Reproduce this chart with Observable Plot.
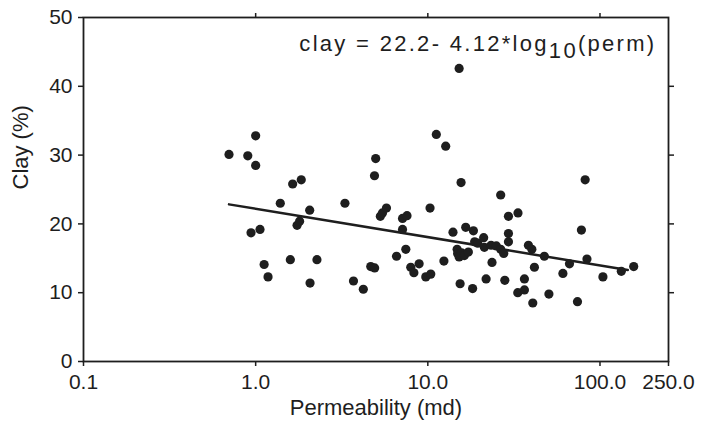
<!DOCTYPE html>
<html><head><meta charset="utf-8">
<script src="https://cdn.jsdelivr.net/npm/d3@7"></script>
<script src="https://cdn.jsdelivr.net/npm/@observablehq/plot@0.6"></script>
<style>
html,body{margin:0;padding:0;background:#fff;}
</style></head><body><div id="chart"></div>
<script>
// Permeability (md) of each sample
const perm = [0.70, 0.90, 1.00, 1.00, 0.94, 1.06, 1.12, 1.18, 1.39, 1.64,
  1.84, 1.74, 1.80, 1.59, 2.06, 2.07, 2.27, 3.30, 3.70, 4.22,
  4.66, 4.91, 4.98, 4.90, 5.30, 5.45, 5.75, 6.58, 7.13, 7.57,
  7.13, 7.45, 7.96, 8.30, 8.90, 9.73, 10.4, 10.3, 11.2, 12.7,
  12.4, 14.0, 15.2, 15.6, 15.4, 14.8, 14.9, 15.7, 15.2, 16.3,
  17.2, 16.6, 18.4, 18.7, 18.2, 19.5, 21.1, 21.3, 23.3, 21.8,
  23.6, 26.5, 25.0, 26.5, 27.6, 28.0, 29.4, 29.4, 29.4, 33.4,
  33.3, 36.4, 36.4, 38.4, 40.2, 40.7, 41.6, 47.5, 50.5, 60.9,
  66.5, 74.0, 78.0, 82.0, 84.0, 104, 133, 157];
// Clay (%) of each sample
const clay = [30.1, 29.9, 32.8, 28.5, 18.7, 19.2, 14.1, 12.3, 23.0, 25.8,
  26.4, 19.8, 20.4, 14.8, 22.0, 11.4, 14.8, 23.0, 11.7, 10.5,
  13.8, 13.6, 29.5, 27.0, 21.1, 21.6, 22.3, 15.3, 20.8, 21.2,
  19.2, 16.3, 13.7, 12.9, 14.2, 12.3, 12.7, 22.3, 33.0, 31.3,
  14.6, 18.8, 42.6, 26.0, 11.3, 16.3, 15.7, 15.8, 15.2, 15.4,
  15.9, 19.5, 19.0, 17.4, 10.6, 17.2, 18.0, 16.6, 16.9, 12.0,
  14.4, 24.2, 16.8, 16.3, 15.7, 11.8, 21.1, 18.6, 17.4, 21.6,
  10.0, 10.4, 12.0, 16.9, 16.3, 8.5, 13.7, 15.3, 9.8, 12.8,
  14.2, 8.7, 19.1, 26.4, 14.9, 12.3, 13.1, 13.8];
// Regression line: clay = 22.2 - 4.12*log10(perm), drawn over this perm range
const fitPerm = [0.7, 145];
const fitIntercept = 22.2;
const fitSlope = -4.12;
const xTicks = [0.1, 1, 10, 100, 250];
const xInnerTicks = [1, 10, 100];
const yTicks = [0, 10, 20, 30, 40, 50];
const yInnerTicks = [10, 20, 30, 40];
const eqMain = "clay = 22.2- 4.12*log";
const eqSub = "10";
const eqTail = "(perm)";
const xLabel = "Permeability (md)";
const yLabel = "Clay (%)";

const points = perm.map((p, i) => ({perm: p, clay: clay[i]}));
const fit = fitPerm.map(p => ({perm: p, clay: fitIntercept + fitSlope * Math.log10(p)}));
const ink = "#1e1e1e";
const SVGNS = "http://www.w3.org/2000/svg";

const plot = Plot.plot({
  width: 710,
  height: 422,
  marginLeft: 83,
  marginRight: 42,
  marginTop: 17,
  marginBottom: 61,
  style: {fontFamily: "'Liberation Sans', Arial, Helvetica, sans-serif", fontSize: "21px", color: ink, background: "#fff"},
  x: {type: "log", domain: [0.1, 250]},
  y: {domain: [0, 50]},
  marks: [
    Plot.axisX(xTicks, {tickSize: 5, tickPadding: 8, tickFormat: d => d.toFixed(1), label: null, stroke: ink, strokeWidth: 1.5, fill: ink}),
    Plot.axisX(xInnerTicks, {anchor: "top", tickSize: 5, tickFormat: () => "", label: null, stroke: ink, strokeWidth: 1.5}),
    Plot.axisY(yTicks, {tickSize: 5, tickPadding: 6, label: null, stroke: ink, strokeWidth: 1.5, fill: ink}),
    Plot.axisY(yInnerTicks, {anchor: "right", tickSize: 5, tickFormat: () => "", label: null, stroke: ink, strokeWidth: 1.5}),
    Plot.frame({stroke: ink, strokeWidth: 1.8}),
    Plot.text([xLabel], {frameAnchor: "bottom", dy: 46, lineAnchor: "middle", fontSize: 22, fill: ink}),
    Plot.text([yLabel], {frameAnchor: "left", dx: -63, rotate: -90, lineAnchor: "middle", fontSize: 22, fill: ink}),
    Plot.line(fit, {x: "perm", y: "clay", stroke: ink, strokeWidth: 2.5}),
    Plot.dot(points, {x: "perm", y: "clay", r: 4.6, fill: ink, stroke: "none"}),
    Plot.text([eqMain], {
      frameAnchor: "top-right", dx: -12, dy: 33, textAnchor: "end", lineAnchor: "bottom",
      fontSize: 22, fill: ink,
      render(index, scales, values, dims, ctx, next) {
        const g = next(index, scales, values, dims, ctx);
        g.querySelectorAll("text").forEach(t => {
          t.textContent = "";
          t.setAttribute("letter-spacing", "2.3px");
          const a = document.createElementNS(SVGNS, "tspan");
          a.textContent = eqMain;
          const b = document.createElementNS(SVGNS, "tspan");
          b.textContent = eqSub;
          b.setAttribute("dy", "7");
          const c = document.createElementNS(SVGNS, "tspan");
          c.textContent = eqTail;
          c.setAttribute("dy", "-7");
          t.append(a, b, c);
        });
        return g;
      }
    })
  ]
});
document.getElementById("chart").append(plot);
</script>
</body></html>
